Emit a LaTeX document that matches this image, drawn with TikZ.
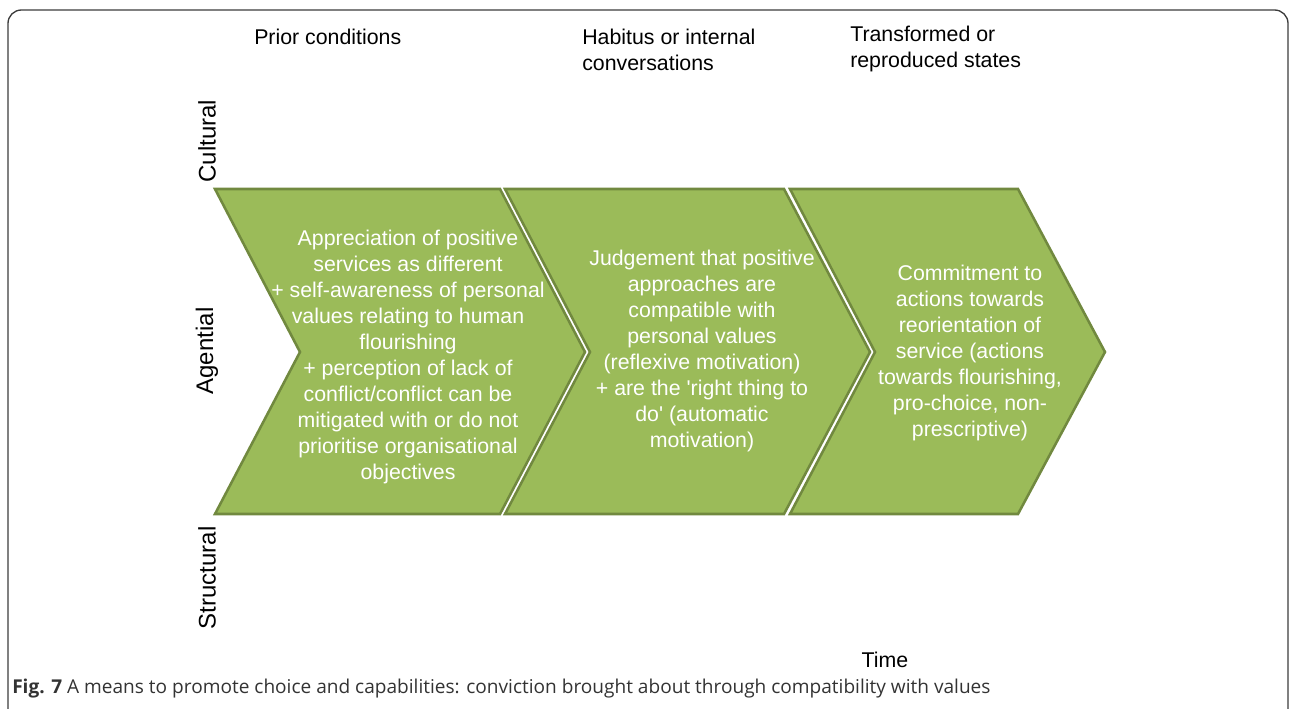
\documentclass[tikz,border=0pt]{standalone}
\usepackage{fontspec}
\setmainfont{Liberation Sans}
\newfontfamily\captionfont{Open Sans}
\definecolor{chevfill}{HTML}{9BBB59}
\definecolor{chevline}{HTML}{71893F}
\definecolor{framegray}{HTML}{3C3C3C}
\tikzset{
	chev/.style={fill=chevfill, draw=chevline, line width=1.9pt, line join=miter},
	chevtext/.style={text=white, align=center, font=\fontsize{16}{19.5}\selectfont, inner sep=0pt},
	headtext/.style={anchor=west, align=left, font=\fontsize{16}{19.5}\selectfont, inner sep=0pt},
	sidetext/.style={rotate=90, font=\fontsize{18}{20}\selectfont, inner sep=0pt}
}
\begin{document}
\begin{tikzpicture}[x=0.75pt, y=-0.75pt]
		\useasboundingbox ( 0, 0 ) rectangle ( 1290, 708 );
		% рамка
		\draw [framegray, line width=1pt, rounded corners=10] ( 8, 712 ) -- ( 8, 10 ) -- ( 1288, 10 ) -- ( 1288, 712 );

		% заголовки столбцов
		\node [headtext] (prior) at ( 254, 37 ) {Prior conditions};
		\node [headtext] (habitus) at ( 582, 50 ) {Habitus or internal\\conversations};
		\node [headtext] (transformed) at ( 850, 49 ) {Transformed or\\reproduced states};

		% уровни
		\node [sidetext] (cultural) at ( 207, 141 ) {Cultural};
		\node [sidetext] (agential) at ( 207, 351 ) {Agential};
		\node [sidetext] (structural) at ( 207, 578 ) {Structural};

		% этап 1
		\draw [chev] ( 215, 189 ) -- ( 500, 189 ) -- ( 585, 352 ) -- ( 500, 514 ) -- ( 215, 514 ) -- ( 300, 352 ) -- cycle;
		\node [chevtext] (stageone) at ( 408, 357 ) {Appreciation of positive\\services as different\\+ self-awareness of personal\\values relating to human\\flourishing\\+ perception of lack of\\conflict/conflict can be\\mitigated with or do not\\prioritise organisational\\objectives};

		% этап 2
		\draw [chev] ( 505, 189 ) -- ( 784, 189 ) -- ( 870, 352 ) -- ( 784, 514 ) -- ( 505, 514 ) -- ( 590, 352 ) -- cycle;
		\node [chevtext] (stagetwo) at ( 702, 351 ) {Judgement that positive\\approaches are\\compatible with\\personal values\\(reflexive motivation)\\+ are the \textquotesingle right thing to\\do\textquotesingle{} (automatic\\motivation)};

		% этап 3
		\draw [chev] ( 790, 189 ) -- ( 1018, 189 ) -- ( 1105, 352 ) -- ( 1018, 514 ) -- ( 790, 514 ) -- ( 875, 352 ) -- cycle;
		\node [chevtext] (stagethree) at ( 970, 353 ) {Commitment to\\actions towards\\reorientation of\\service (actions\\towards flourishing,\\pro-choice, non-\\prescriptive)};

		% время и подпись
		\node [font=\fontsize{16}{19.5}\selectfont, inner sep=0pt] (time) at ( 885, 660 ) {Time};
		\node [anchor=west, inner sep=0pt, text=black!80, font=\captionfont\fontsize{14.3}{16}\selectfont] (caption) at ( 12, 689 ) {\textbf{Fig. 7} A means to promote choice and capabilities: conviction brought about through compatibility with values};
	\end{tikzpicture}
\end{document}
